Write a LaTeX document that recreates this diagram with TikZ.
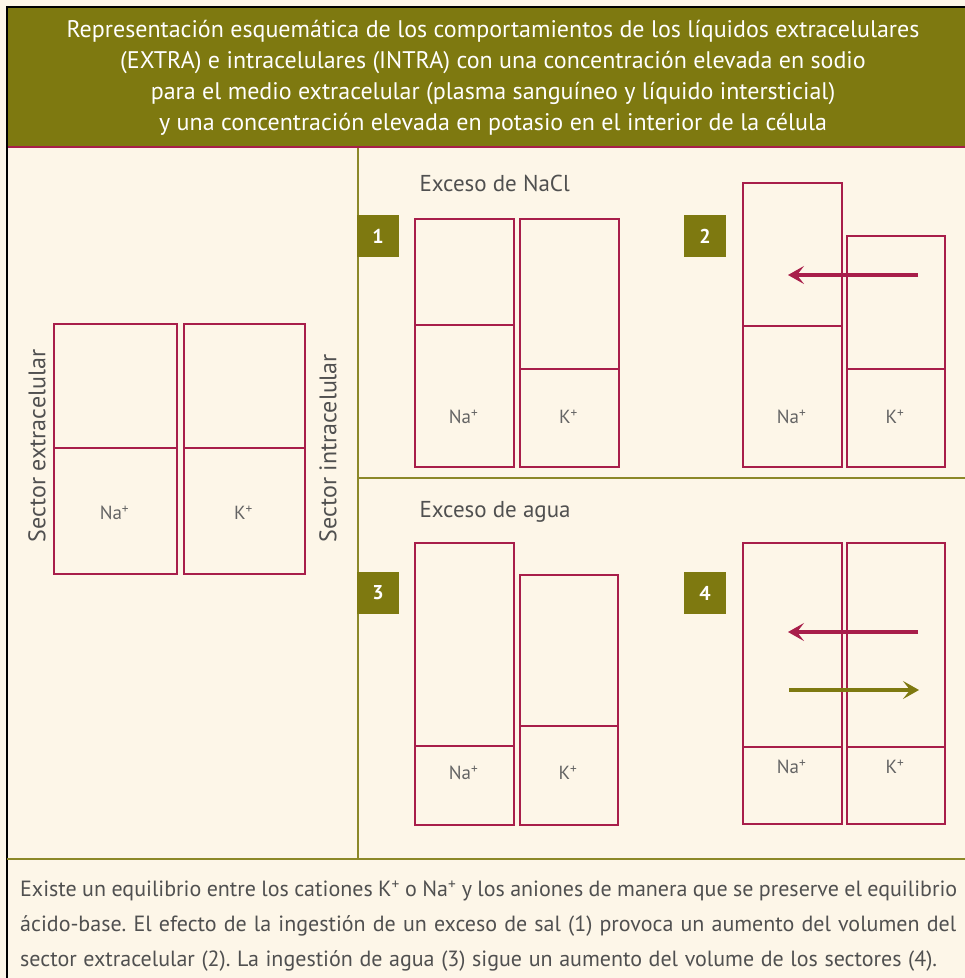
\documentclass[tikz,border=0pt]{standalone}
\usepackage{fontspec}
\setmainfont{PT Sans}
\usetikzlibrary{arrows.meta}
\frenchspacing
\definecolor{olive}{RGB}{126,121,16}
\definecolor{oliveline}{RGB}{140,136,40}
\definecolor{crim}{RGB}{168,30,74}
\definecolor{cream}{RGB}{253,246,232}
\definecolor{labgray}{RGB}{80,80,80}
\definecolor{iongray}{RGB}{100,100,100}
\tikzset{
  boxline/.style={draw=crim, line width=1.8pt},
  ionlab/.style={font=\fontsize{19}{19}\selectfont, text=iongray},
  badge/.style={fill=olive, text=white, font=\bfseries\fontsize{20}{20}\selectfont, minimum width=42pt, minimum height=42pt, inner sep=0pt},
  sectlab/.style={font=\fontsize{24}{24}\selectfont, text=labgray, rotate=90},
  titlelab/.style={font=\fontsize{23}{23}\selectfont, text=labgray, anchor=west},
  divider/.style={draw=oliveline, line width=2.2pt},
  arr/.style={line width=4pt, -{Stealth[length=16pt,width=18pt,inset=7pt]}},
  bodytext/.style={font=\fontsize{22}{22}\selectfont, text=labgray, anchor=west, inner sep=0pt},
}
% column: name, x1, y1, x2, y2, ydiv, label, label y
\newcommand\ionbox[8]{%
  \node[boxline, anchor=north west, minimum width=#4pt-#2pt, minimum height=#5pt-#3pt, inner sep=0pt] (#1) at (#2,#3) {};
  \draw[crim, line width=1.8pt] (#2,#6) -- (#4,#6);
  \node[ionlab] (#1lab) at ({(#2+#4)/2},#8) {#7};
}
\begin{document}
\begin{tikzpicture}[x=1pt,y=-1pt]
\useasboundingbox (0,0) rectangle (965,978);
\fill[cream] (0,0) rectangle (965,978);
% header
\fill[olive] (7,7) rectangle (965,147);
\draw[crim, line width=2pt] (7,147) -- (965,147);
\node[text=white, font=\fontsize{24}{31}\selectfont, align=center] (title) at (493,78)
  {Representación esquemática de los comportamientos de los líquidos extracelulares\\
   (EXTRA) e intracelulares (INTRA) con una concentración elevada en sodio\\
   para el medio extracelular (plasma sanguíneo y líquido intersticial)\\
   y una concentración elevada en potasio en el interior de la célula};
% outer border (top/left)
\draw[black, line width=1.5pt] (7,978) -- (7,7) -- (965,7);
% dividers
\draw[divider] (358,148) -- (358,859);
\draw[divider] (358,478) -- (965,478);
\draw[divider] (7,859) -- (965,859);
% left panel
\ionbox{L1}{53}{323}{176}{573}{448}{Na\textsuperscript{+}}{513}
\ionbox{L2}{183}{323}{304}{573}{448}{K\textsuperscript{+}}{513}
\node[sectlab] (sext) at (37,446) {Sector extracelular};
\node[sectlab] (sint) at (328,448) {Sector intracelular};
% panel 1
\node[titlelab] (t1) at (416,183) {Exceso de NaCl};
\node[badge] (b1) at (378,236) {1};
\ionbox{P1a}{414}{218}{513}{466}{325}{Na\textsuperscript{+}}{417}
\ionbox{P1b}{519}{218}{618}{466}{369}{K\textsuperscript{+}}{417}
% panel 2
\node[badge] (b2) at (705,236) {2};
\ionbox{P2a}{742}{182}{841}{466}{326}{Na\textsuperscript{+}}{417}
\ionbox{P2b}{846}{235}{944}{466}{369}{K\textsuperscript{+}}{417}
\coordinate (a2s) at (918,275);
\coordinate (a2e) at (788,275);
\draw[arr, crim] (a2s) -- (a2e);
% panel 3
\node[titlelab] (t3) at (416,512) {Exceso de agua};
\node[badge] (b3) at (378,593) {3};
\ionbox{P3a}{414}{542}{513}{824}{746}{Na\textsuperscript{+}}{773}
\ionbox{P3b}{519}{574}{617}{824}{726}{K\textsuperscript{+}}{773}
% panel 4
\node[badge] (b4) at (705,593) {4};
\ionbox{P4a}{742}{542}{841}{823}{747}{Na\textsuperscript{+}}{767}
\ionbox{P4b}{846}{542}{944}{823}{747}{K\textsuperscript{+}}{767}
\coordinate (a4s) at (918,632);
\coordinate (a4e) at (788,632);
\draw[arr, crim] (a4s) -- (a4e);
\coordinate (a5s) at (789,690);
\coordinate (a5e) at (919,690);
\draw[arr, olive] (a5s) -- (a5e);
% bottom text
\node[bodytext] (l1) at (20,891) {\makebox[937pt][s]{Existe un equilibrio entre los cationes K\textsuperscript{+} o Na\textsuperscript{+} y los aniones de manera que se preserve el equilibrio}};
\node[bodytext] (l2) at (20,926) {\makebox[936pt][s]{ácido-base. El efecto de la ingestión de un exceso de sal (1) provoca un aumento del volumen del}};
\node[bodytext] (l3) at (20,961) {\makebox[917pt][s]{sector extracelular (2). La ingestión de agua (3) sigue un aumento del volume de los sectores (4).}};
\end{tikzpicture}
\end{document}
